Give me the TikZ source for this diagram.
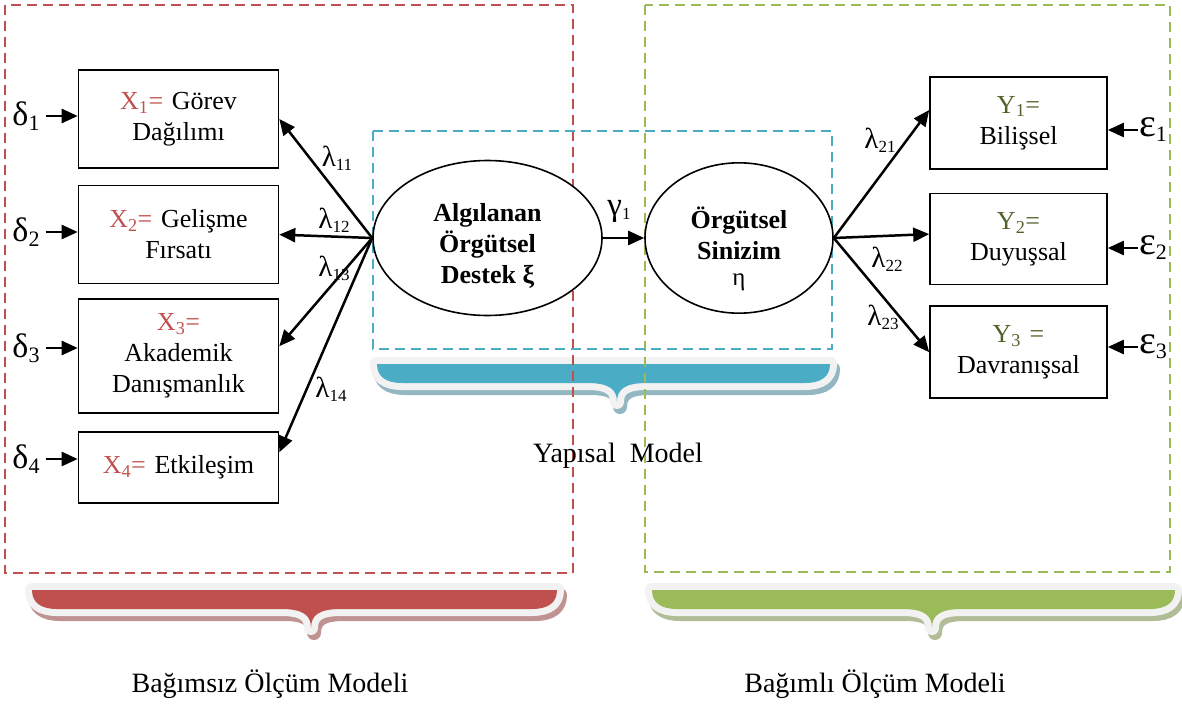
\documentclass[tikz,border=0pt]{standalone}
\usepackage{fontspec}
\setmainfont{Liberation Serif}
\usepackage{xcolor}
\usetikzlibrary{positioning, arrows.meta, calc, shapes.geometric}
\definecolor{modelred}{HTML}{C0504D}
\definecolor{modelgreen}{HTML}{9BBB59}
\definecolor{modelblue}{HTML}{4BACC6}
\definecolor{ytext}{HTML}{4F6228}
\definecolor{rim}{HTML}{F2F2F2}
\newcommand{\xvar}[1]{\textcolor{modelred}{X\textsubscript{#1}=}}
\newcommand{\yvar}[1]{\textcolor{ytext}{Y\textsubscript{#1}=}}
\newcommand{\load}[3][29]{{\fontsize{#1}{#1}\selectfont #2}{\fontsize{17}{17}\selectfont\raisebox{-4pt}{#3}}}
\newcommand{\errterm}[3]{{\fontsize{#3}{#3}\selectfont #1}{\fontsize{22}{22}\selectfont\raisebox{-5pt}{#2}}}
% brace outline: left, right, top, tip x
\newcommand{\bracepath}[4]{(#1,#3) -- (#2,#3)
  .. controls (#2,{#3+12}) and ({#2-8},{#3+19}) .. ({#2-25},{#3+19})
  -- ({#4+30},{#3+19})
  .. controls ({#4+8},{#3+19}) and (#4,{#3+25}) .. (#4,{#3+38})
  .. controls (#4,{#3+25}) and ({#4-8},{#3+19}) .. ({#4-30},{#3+19})
  -- ({#1+25},{#3+19})
  .. controls ({#1+8},{#3+19}) and (#1,{#3+12}) .. (#1,#3) -- cycle}
\newcommand{\ribbon}[5]{%
  \filldraw[#5!55!gray!70!white, line width=14pt, line join=round, shift={(3,5)}] \bracepath{#1}{#2}{#3}{#4};
  \filldraw[rim, line width=14pt, line join=round] \bracepath{#1}{#2}{#3}{#4};
  \fill[#5] \bracepath{#1}{#2}{#3}{#4};
}

\begin{document}
\begin{tikzpicture}[
    x=1pt, y=-1pt,
    obs/.style={draw=black, line width=1.6pt, minimum width=200pt,
                text width=190pt, align=center, inner sep=2pt,
                font=\fontsize{26}{31}\selectfont},
    latent/.style={draw=black, ellipse, line width=1.6pt, fill=white,
                   align=center, inner sep=0pt,
                   font=\fontsize{26}{31}\selectfont\bfseries},
    coef/.style={inner sep=1pt},
    errlbl/.style={inner sep=1pt},
    arr/.style={-{Triangle[length=16pt, width=14pt]}, line width=2.5pt},
    zone/.style={dash pattern=on 10pt off 6pt, line width=2.5pt},
    caption/.style={font=\fontsize{28}{28}\selectfont},
]
\useasboundingbox (0,0) rectangle (1182,704);

% Braces
\ribbon{377}{830}{364}{617}{modelblue}
\ribbon{32}{557}{590}{311}{modelred}
\ribbon{652}{1175}{590}{932}{modelgreen}

% Model regions
\draw[zone, modelred] (5,5) rectangle (573,573);
\draw[zone, modelgreen] (645,5) rectangle (1170,572);
\draw[zone, modelblue] (373,131) rectangle (832,349);

% Exogenous indicators
\node[obs, minimum height=98pt] (x1) at (178.5,119) {\xvar{1} Görev\\Dağılımı};
\node[obs, minimum height=98pt, below=16pt of x1] (x2) {\xvar{2} Gelişme\\Fırsatı};
\node[obs, minimum height=114pt, below=14pt of x2] (x3) {\xvar{3}\\Akademik\\Danışmanlık};
\node[obs, minimum height=71pt, below=17pt of x3] (x4) {\xvar{4} Etkileşim};

% Endogenous indicators
\node[obs, minimum width=177pt, text width=170pt, minimum height=92pt] (y1) at (1018.5,123) {\yvar{1}\\Bilişsel};
\node[obs, minimum width=177pt, text width=170pt, minimum height=91pt, below=23pt of y1] (y2) {\yvar{2}\\Duyuşsal};
\node[obs, minimum width=177pt, text width=170pt, minimum height=92pt, below=20pt of y2] (y3) {\textcolor{ytext}{Y\textsubscript{3} =}\\Davranışsal};

% Latent variables
\node[latent, minimum width=229pt, minimum height=155pt] (xi) at (487.5,238) {\rule{0pt}{34pt}Algılanan\\Örgütsel\\Destek ξ};
\node[latent, minimum width=188pt, minimum height=112pt] (eta) at (739,238) {\rule{0pt}{44pt}Örgütsel\\Sinizim\\[-5pt]{\mdseries\fontsize{25}{25}\selectfont η}};

% Error terms
\foreach \i/\y in {1/116, 2/232, 3/348, 4/459} {
    \node[errlbl] (d\i) at (26,\y) {\errterm{δ}{\i}{34}};
    \draw[arr] ([xshift=5pt]d\i.east) -- (d\i.east -| x\i.west);
}
\foreach \i/\y in {1/130, 2/248, 3/347} {
    \node[errlbl] (e\i) at (1153,\y) {\errterm{ε}{\i}{40}};
    \draw[arr] (e\i.west) -- (e\i.west -| y\i.east);
}

% Loadings
\draw[arr] (xi.west) -- (x1.east);
\draw[arr] (xi.west) -- (x2.east);
\draw[arr] (xi.west) -- ($(x3.east)+(0,-10)$);
\draw[arr] (xi.west) -- ($(x4.east)+(0,-15)$);
\draw[arr] (eta.east) -- ($(y1.west)+(0,-13)$);
\draw[arr] (eta.east) -- ($(y2.west)+(0,-5)$);
\draw[arr] (eta.east) -- (y3.west);
\draw[arr] (xi.east) -- (eta.west);

\node[coef] (l11) at (337,158) {\load{λ}{11}};
\node[coef] (l12) at (334,220) {\load{λ}{12}};
\node[coef] (l13) at (334,268) {\load{λ}{13}};
\node[coef] (l14) at (331,389) {\load{λ}{14}};
\node[coef] (l21) at (880,140) {\load{λ}{21}};
\node[coef] (l22) at (887,259) {\load{λ}{22}};
\node[coef] (l23) at (883,317) {\load{λ}{23}};
\node[coef] (g1) at (619,211) {\load[33]{γ}{1}};

% Captions
\node[caption] (cs) at (618,456) {Yapısal\ \ Model};
\node[caption] (cx) at (270,684) {Bağımsız Ölçüm Modeli};
\node[caption] (cy) at (875,684) {Bağımlı Ölçüm Modeli};

\end{tikzpicture}
\end{document}
